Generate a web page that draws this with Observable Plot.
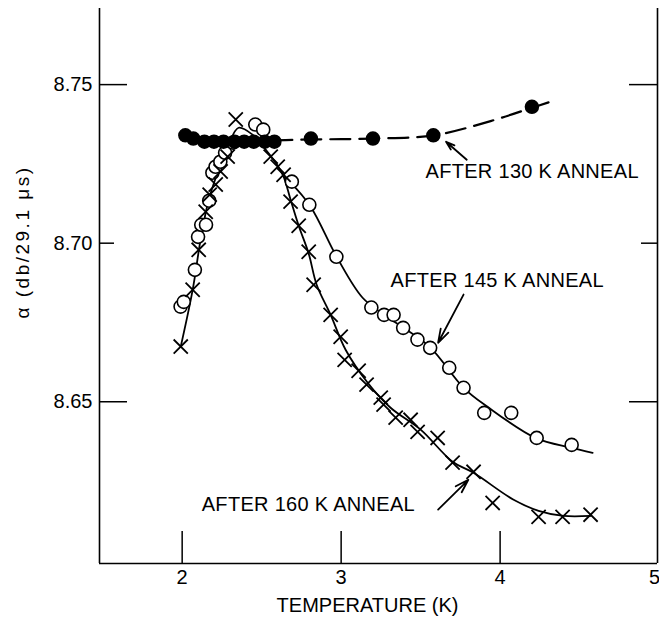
<!DOCTYPE html>
<html><head><meta charset="utf-8">
<script src="https://cdn.jsdelivr.net/npm/d3@7"></script>
<script src="https://cdn.jsdelivr.net/npm/@observablehq/plot@0.6"></script>
<style>body{margin:0;background:#fff} svg{display:block}</style>
</head><body><div id="chart"></div>
<script>
// ---- axis ticks ----
const xTicks = [2, 3, 4];
const xEdgeTick = [5];
const xTickMarks = [2, 3, 4];
const yTicks = [8.65, 8.70, 8.75];
const yMajor = [8.65, 8.75];
const yMinor = [8.70];
const xLabel = "TEMPERATURE (K)";
const yLabel = "α (db/29.1 μs)";

// ---- after 130 K anneal (filled circles, dashed curve) ----
const x130 = [2.02, 2.07, 2.14, 2.20, 2.26, 2.33, 2.39, 2.45, 2.52, 2.58, 2.81, 3.20, 3.58, 4.20];
const y130 = [8.734, 8.733, 8.732, 8.732, 8.732, 8.732, 8.732, 8.732, 8.732, 8.732, 8.733, 8.733, 8.734, 8.743];
const c130x = [2.02, 2.43, 2.81, 3.20, 3.58, 3.94, 4.20, 4.31];
const c130y = [8.7327, 8.7323, 8.7327, 8.733, 8.734, 8.7385, 8.7427, 8.7445];

// ---- after 145 K anneal (open circles) ----
const x145 = [1.99, 2.01, 2.08, 2.10, 2.12, 2.15, 2.17, 2.19, 2.21, 2.24, 2.27, 2.32, 2.46, 2.51, 2.69, 2.80, 2.97, 3.19, 3.27, 3.33, 3.39, 3.48, 3.56, 3.68, 3.77, 3.90, 4.07, 4.23, 4.45];
const y145 = [8.680, 8.6815, 8.6916, 8.702, 8.7058, 8.7058, 8.7134, 8.7222, 8.7241, 8.7257, 8.7285, 8.7317, 8.7374, 8.7358, 8.7194, 8.7121, 8.6957, 8.6797, 8.6774, 8.6774, 8.6733, 8.6696, 8.667, 8.6607, 8.6544, 8.6465, 8.6465, 8.6386, 8.6364];
const c145x = [2.638, 2.682, 2.808, 2.972, 3.135, 3.280, 3.393, 3.563, 3.770, 3.921, 4.223, 4.443, 4.582];
const c145y = [8.721, 8.7191, 8.7115, 8.6957, 8.6828, 8.6771, 8.6733, 8.667, 8.6544, 8.6484, 8.6386, 8.6355, 8.6339];

// ---- after 160 K anneal (crosses) ----
const x160 = [1.991, 2.066, 2.104, 2.148, 2.173, 2.211, 2.242, 2.286, 2.337, 2.557, 2.601, 2.638, 2.682, 2.733, 2.796, 2.827, 2.934, 2.997, 3.022, 3.110, 3.160, 3.249, 3.267, 3.343, 3.437, 3.481, 3.607, 3.701, 3.833, 3.953, 4.242, 4.393, 4.569];
const y160 = [8.6674, 8.6853, 8.6979, 8.7099, 8.7153, 8.7185, 8.7226, 8.7273, 8.739, 8.7273, 8.7241, 8.7216, 8.7131, 8.7055, 8.6973, 8.6869, 8.6774, 8.6705, 8.6632, 8.6598, 8.6554, 8.6513, 8.6491, 8.645, 8.6443, 8.6405, 8.6386, 8.6308, 8.6279, 8.6181, 8.6137, 8.6137, 8.6144];
const c160x = [1.991, 2.066, 2.116, 2.167, 2.230, 2.292, 2.355, 2.443, 2.525, 2.601, 2.638, 2.682, 2.733, 2.796, 2.846, 2.934, 3.028, 3.167, 3.311, 3.500, 3.701, 3.833, 4.085, 4.242, 4.399, 4.569];
const c160y = [8.6674, 8.6853, 8.7011, 8.7137, 8.7232, 8.7311, 8.7364, 8.7342, 8.7295, 8.7244, 8.721, 8.7137, 8.7055, 8.6967, 8.6869, 8.6774, 8.6664, 8.656, 8.6481, 8.6412, 8.6311, 8.6276, 8.6191, 8.6156, 8.614, 8.614];

// ---- annotations ----
const labelText = ["AFTER 130 K ANNEAL", "AFTER 145 K ANNEAL", "AFTER 160 K ANNEAL"];
const labelX = [3.531, 3.311, 2.123];
const labelY = [8.7226, 8.6882, 8.6175];
const arrowX1 = [3.79, 3.77, 3.61];
const arrowY1 = [8.7263, 8.6838, 8.616];
const arrowX2 = [3.66, 3.61, 3.80];
const arrowY2 = [8.732, 8.6686, 8.6254];

// ---- build tables ----
const zip = (xs, ys) => xs.map((x, i) => ({x, y: ys[i]}));
const pts130 = zip(x130, y130), crv130 = zip(c130x, c130y);
const pts145 = zip(x145, y145), crv145 = zip(c145x, c145y);
const pts160 = zip(x160, y160), crv160 = zip(c160x, c160y);
const labels = labelText.map((t, i) => ({t, x: labelX[i], y: labelY[i]}));
const arrows = arrowX1.map((x1, i) => ({x1, y1: arrowY1[i], x2: arrowX2[i], y2: arrowY2[i]}));

const W = 659, H = 626;
const mL = 99, mR = 2, mT = 8, mB = 63;
const fw = W - mL - mR, fh = H - mT - mB;
const xDomain = [1.48, 4.99], yDomain = [8.599, 8.774];
const font = "'Liberation Sans', Arial, sans-serif";

const chart = Plot.plot({
  width: W, height: H,
  marginLeft: mL, marginRight: mR, marginTop: mT, marginBottom: mB,
  x: {domain: xDomain, axis: null},
  y: {domain: yDomain, axis: null},
  style: {fontFamily: font, background: "white", color: "black"},
  marks: [
    // frame (left, right, bottom)
    Plot.ruleX([xDomain[0], xDomain[1]], {stroke: "black", strokeWidth: 1.6}),
    Plot.ruleY([yDomain[0]], {stroke: "black", strokeWidth: 1.6}),
    // inward ticks
    Plot.tickX(xTickMarks, {x: d => d, insetTop: fh - 32, strokeWidth: 1.5}),
    Plot.tickY(yMajor, {y: d => d, insetRight: fw - 28, strokeWidth: 1.5}),
    Plot.tickY(yMinor, {y: d => d, insetRight: fw - 15, strokeWidth: 1.5}),
    Plot.tickY(yMajor, {y: d => d, insetLeft: fw - 28, strokeWidth: 1.5}),
    Plot.tickY(yMinor, {y: d => d, insetLeft: fw - 16, strokeWidth: 1.5}),
    // tick labels
    Plot.axisX(xTicks, {tickSize: 0, tickPadding: 6, fontSize: 20, label: null, tickFormat: d => String(d)}),
    Plot.axisX(xEdgeTick, {tickSize: 0, tickPadding: 6, fontSize: 20, label: null, textAnchor: "end", dx: 1, tickFormat: d => String(d)}),
    Plot.axisY(yTicks, {tickSize: 0, tickPadding: 7, fontSize: 20, label: null, tickFormat: d => d.toFixed(2)}),
    // axis titles
    Plot.text([xLabel], {frameAnchor: "bottom", dx: -11, dy: 48, fontSize: 20, text: d => d}),
    Plot.text([yLabel], {frameAnchor: "left", textAnchor: "middle", lineAnchor: "middle", dx: -77, dy: -44, rotate: -90, fontSize: 19, text: d => d, className: "ylab"}),
    // curves
    Plot.line(crv160, {x: "x", y: "y", curve: "catmull-rom", stroke: "black", strokeWidth: 1.8}),
    Plot.line(crv145, {x: "x", y: "y", curve: "catmull-rom", stroke: "black", strokeWidth: 1.8}),
    Plot.line(crv130, {x: "x", y: "y", curve: "catmull-rom", stroke: "black", strokeWidth: 2.2, strokeDasharray: "20,9"}),
    // points
    Plot.dot(pts145, {x: "x", y: "y", r: 6.5, fill: "white", stroke: "black", strokeWidth: 1.6}),
    Plot.dot(pts160, {x: "x", y: "y", r: 6.5, symbol: "times", stroke: "black", strokeWidth: 1.8}),
    Plot.dot(pts130, {x: "x", y: "y", r: 6.5, fill: "black", stroke: "black"}),
    // annotations
    Plot.arrow(arrows, {x1: "x1", y1: "y1", x2: "x2", y2: "y2", stroke: "black", strokeWidth: 1.8, headLength: 12, headAngle: 35}),
    Plot.text(labels, {x: "x", y: "y", text: "t", textAnchor: "start", fontSize: 20, className: "annot"})
  ]
});
// wider letter spacing, as in the hand lettering of the original
chart.querySelectorAll(".ylab text").forEach(t => t.setAttribute("letter-spacing", "2.5"));
chart.querySelectorAll(".annot text").forEach(t => t.setAttribute("letter-spacing", "0.3"));
document.getElementById("chart").appendChild(chart);
</script>
</body></html>
